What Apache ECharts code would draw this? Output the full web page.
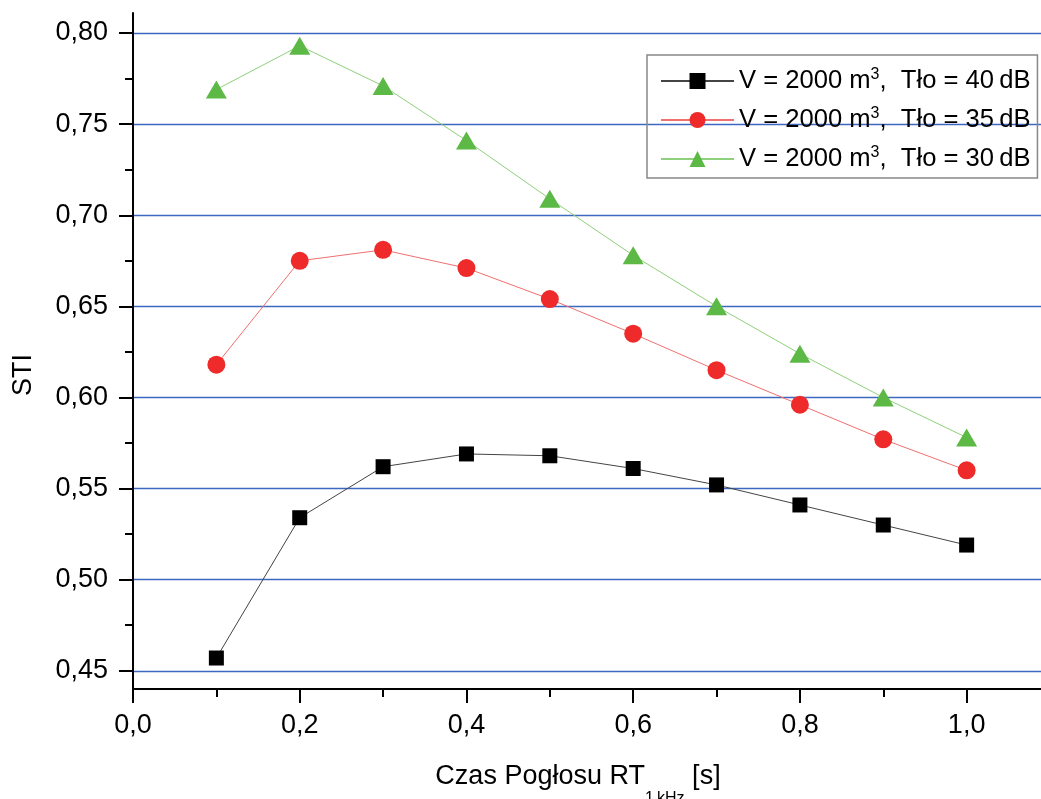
<!DOCTYPE html>
<html lang="pl">
<head>
<meta charset="UTF-8">
<title>STI - czas pogłosu</title>
<script src="https://cdn.jsdelivr.net/npm/echarts@6/dist/echarts.min.js"></script>
<style>
    html, body { margin: 0; padding: 0; background: #fff; }
    #chart { width: 1041px; height: 799px; }
</style>
</head>
<body>
<div id="chart"></div>
<script>
// czas pogłosu RT 1kHz [s]
var czas = [0.1, 0.2, 0.3, 0.4, 0.5, 0.6, 0.7, 0.8, 0.9, 1.0];
// STI dla V = 2000 m3
var sti40dB = [0.457, 0.534, 0.562, 0.569, 0.568, 0.561, 0.552, 0.541, 0.530, 0.519];
var sti35dB = [0.618, 0.675, 0.681, 0.671, 0.654, 0.635, 0.615, 0.596, 0.577, 0.560];
var sti30dB = [0.769, 0.793, 0.771, 0.741, 0.709, 0.678, 0.650, 0.624, 0.600, 0.578];
var legendNames = ['V = 2000 m3, Tło = 40 dB', 'V = 2000 m3, Tło = 35 dB', 'V = 2000 m3, Tło = 30 dB'];
var yTicks = [0.45, 0.50, 0.55, 0.60, 0.65, 0.70, 0.75, 0.80];
var yMinorTicks = [0.475, 0.525, 0.575, 0.625, 0.675, 0.725, 0.775];

var FONT = 'Liberation Sans, Arial, sans-serif';

function pairs(vals) {
    return czas.map(function (x, i) { return [x, vals[i]]; });
}
function comma(v, d) {
    return v.toFixed(d).replace('.', ',');
}

var chart = echarts.init(document.getElementById('chart'));

var option = {
    backgroundColor: '#fff',
    animation: false,
    textStyle: { fontFamily: FONT },
    grid: { left: 133, right: -9, top: 13, bottom: 110, containLabel: false, outerBoundsMode: 'none' },
    legend: {
        orient: 'vertical',
        left: 647,
        top: 55,
        padding: [12, 7, 5, 13],
        itemGap: 11,
        itemWidth: 73,
        itemHeight: 20,
        borderColor: '#888',
        borderWidth: 1.5,
        data: legendNames,
        formatter: function (name) {
            var t = name.split('Tło = ')[1];
            return 'V = 2000 m{sup|3},  Tło = ' + t.replace(' dB', '\u2009dB');
        },
        textStyle: {
            fontFamily: FONT,
            fontSize: 25.6,
            color: '#000',
            lineHeight: 28,
            rich: {
                sup: { fontSize: 16, lineHeight: 28, verticalAlign: 'top', fontFamily: FONT, color: '#000' }
            }
        }
    },
    xAxis: {
        type: 'value',
        min: 0,
        max: 1.1,
        interval: 0.2,
        name: 'Czas Pogłosu RT{sub|1\u2009kHz} [s]',
        nameLocation: 'middle',
        nameGap: 58,
        nameTextStyle: {
            fontFamily: FONT,
            fontSize: 27,
            color: '#000',
            lineHeight: 60,
            verticalAlign: 'top',
            padding: [0, 27, 0, 0],
            rich: {
                sub: { fontSize: 16, lineHeight: 16, verticalAlign: 'bottom', fontFamily: FONT, color: '#000' }
            }
        },
        axisLine: { lineStyle: { color: '#000', width: 2 } },
        axisTick: { inside: false, length: 14, lineStyle: { color: '#000', width: 2 } },
        minorTick: { show: true, splitNumber: 2, length: 8, lineStyle: { color: '#000', width: 2 } },
        axisLabel: {
            margin: 23,
            fontSize: 27,
            color: '#000',
            fontFamily: FONT,
            showMaxLabel: false,
            formatter: function (v) { return comma(v, 1); }
        },
        splitLine: { show: false }
    },
    yAxis: [{
        type: 'value',
        min: 0.44,
        max: 0.811,
        name: 'STI',
        nameLocation: 'middle',
        nameGap: 96,
        nameTextStyle: {
            fontFamily: FONT,
            fontSize: 27,
            color: '#000',
            padding: [0, 48, 0, 0]
        },
        axisLine: { show: true, lineStyle: { color: '#000', width: 2 } },
        axisTick: { show: true, inside: false, length: 14, customValues: yTicks, lineStyle: { color: '#000', width: 2 } },
        axisLabel: {
            margin: 25,
            fontSize: 27,
            color: '#000',
            fontFamily: FONT,
            customValues: yTicks,
            formatter: function (v) { return comma(v, 2); }
        },
        splitLine: { show: true, lineStyle: { color: '#3d68c2', width: 1.3 } }
    }, {
        type: 'value',
        min: 0.44,
        max: 0.811,
        position: 'left',
        axisLine: { show: false },
        axisTick: { show: true, inside: false, length: 8, customValues: yMinorTicks, lineStyle: { color: '#000', width: 2 } },
        axisLabel: { show: false },
        splitLine: { show: false }
    }],
    series: [{
        name: legendNames[0],
        type: 'line',
        data: pairs(sti40dB),
        symbol: 'rect',
        symbolSize: 15,
        itemStyle: { color: '#000' },
        lineStyle: { color: '#444', width: 1 }
    }, {
        name: legendNames[1],
        type: 'line',
        data: pairs(sti35dB),
        symbol: 'circle',
        symbolSize: 18,
        itemStyle: { color: '#ee2a2a' },
        lineStyle: { color: '#f07070', width: 1 }
    }, {
        name: legendNames[2],
        type: 'line',
        data: pairs(sti30dB),
        symbol: 'triangle',
        symbolSize: [21, 18],
        itemStyle: { color: '#5cb946' },
        lineStyle: { color: '#8fd07c', width: 1 }
    }]
};

chart.setOption(option);
</script>
</body>
</html>
